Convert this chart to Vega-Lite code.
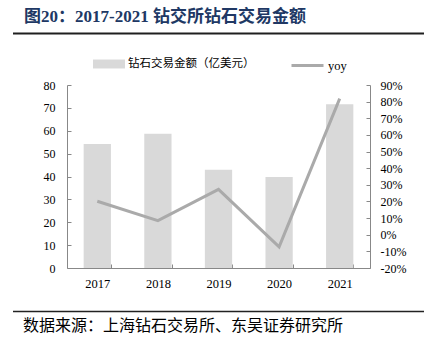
{
  "$schema": "https://vega.github.io/schema/vega-lite/v6.json",
  "width": 303,
  "height": 183,
  "autosize": {"type": "none"},
  "padding": {"left": 67, "top": 85, "right": 54, "bottom": 81},
  "background": "white",
  "data": {
    "values": [
      {"year": "2017", "amount": 54.2, "yoy": 20.1},
      {"year": "2018", "amount": 58.7, "yoy": 8.5},
      {"year": "2019", "amount": 43.0, "yoy": 27.3},
      {"year": "2020", "amount": 39.8, "yoy": -7.3},
      {"year": "2021", "amount": 71.6, "yoy": 81.8}
    ]
  },
  "layer": [
    {
      "layer": [
        {
          "mark": {"type": "bar"},
          "encoding": {
            "x": {
              "field": "year", "type": "nominal",
              "scale": {"paddingInner": 0.55, "paddingOuter": 0.275},
              "axis": {
                "title": null, "orient": "bottom", "labelAngle": 0,
                "tickBand": "extent", "tickSize": -4, "labelPadding": 13,
                "labelFontSize": 12.5
              }
            },
            "y": {
              "field": "amount", "type": "quantitative",
              "scale": {"domain": [0, 80], "nice": false},
              "axis": {
                "title": null, "orient": "left",
                "values": [0, 10, 20, 30, 40, 50, 60, 70, 80],
                "tickSize": -4, "labelPadding": 16, "labelFontSize": 12
              }
            },
            "fill": {
              "datum": "钻石交易金额（亿美元）",
              "scale": {"range": ["#d9d9d9"]},
              "legend": {
                "orient": "none", "legendX": 26, "legendY": -37,
                "title": null, "padding": 0,
                "symbolType": "M-1,-0.28L1,-0.28L1,0.28L-1,0.28Z",
                "symbolSize": 1024, "symbolStrokeWidth": 0,
                "labelFont": "Noto Sans CJK SC", "labelFontSize": 11.5,
                "labelColor": "#000000", "labelOffset": 3
              }
            }
          }
        },
        {
          "mark": {"type": "line", "strokeWidth": 3},
          "encoding": {
            "x": {"field": "year", "type": "nominal", "bandPosition": 0.5},
            "y": {
              "field": "yoy", "type": "quantitative",
              "scale": {"domain": [-20, 90], "nice": false, "zero": false},
              "axis": {
                "title": null, "orient": "right",
                "values": [-20, -10, 0, 10, 20, 30, 40, 50, 60, 70, 80, 90],
                "labelExpr": "datum.value + '%'",
                "tickSize": -4, "labelPadding": 14, "labelFontSize": 12
              }
            },
            "stroke": {
              "datum": "yoy",
              "scale": {"range": ["#aaaaaa"]},
              "legend": {
                "orient": "none", "legendX": 223, "legendY": -37,
                "title": null, "padding": 0,
                "symbolType": "stroke", "symbolSize": 1024,
                "symbolStrokeWidth": 3,
                "labelFont": "Liberation Serif", "labelFontSize": 12.5,
                "labelColor": "#000000", "labelOffset": 3
              }
            }
          }
        }
      ],
      "resolve": {"scale": {"y": "independent"}}
    },
    {
      "data": {"values": [{"title": "图20：2017-2021 钻交所钻石交易金额", "note": "数据来源：上海钻石交易所、东吴证券研究所"}]},
      "layer": [
        {
          "mark": {"type": "text", "align": "left", "baseline": "middle", "font": "'Liberation Serif', 'Noto Sans CJK SC'", "fontSize": 17, "fontWeight": "bold", "color": "#203864"},
          "encoding": {
            "x": {"datum": -43, "type": "quantitative", "scale": {"domain": [0, 303], "nice": false, "zero": false}, "axis": null},
            "y": {"datum": 251.5, "type": "quantitative", "scale": {"domain": [0, 183], "nice": false, "zero": false}, "axis": null},
            "text": {"field": "title"}
          }
        },
        {
          "mark": {"type": "rect", "color": "#1f1f1f"},
          "encoding": {
            "x": {"datum": -54, "type": "quantitative", "scale": {"domain": [0, 303], "nice": false, "zero": false}, "axis": null},
            "x2": {"datum": 357},
            "y": {"datum": 233.6, "type": "quantitative", "scale": {"domain": [0, 183], "nice": false, "zero": false}, "axis": null},
            "y2": {"datum": 235.4}
          }
        },
        {
          "mark": {"type": "rule", "color": "#222222", "strokeWidth": 1.6},
          "encoding": {
            "x": {"datum": -54, "type": "quantitative", "scale": {"domain": [0, 303], "nice": false, "zero": false}, "axis": null},
            "x2": {"datum": 357},
            "y": {"datum": -43.5, "type": "quantitative", "scale": {"domain": [0, 183], "nice": false, "zero": false}, "axis": null}
          }
        },
        {
          "mark": {"type": "text", "align": "left", "baseline": "middle", "font": "Noto Sans CJK SC", "fontSize": 16, "color": "#000000"},
          "encoding": {
            "x": {"datum": -44, "type": "quantitative", "scale": {"domain": [0, 303], "nice": false, "zero": false}, "axis": null},
            "y": {"datum": -58, "type": "quantitative", "scale": {"domain": [0, 183], "nice": false, "zero": false}, "axis": null},
            "text": {"field": "note"}
          }
        }
      ]
    }
  ],
  "resolve": {"scale": {"x": "independent", "y": "independent"}},
  "config": {
    "view": {"stroke": null},
    "axis": {
      "grid": false,
      "domainColor": "#888888",
      "tickColor": "#888888",
      "labelFont": "Liberation Serif",
      "labelColor": "#000000"
    }
  }
}
